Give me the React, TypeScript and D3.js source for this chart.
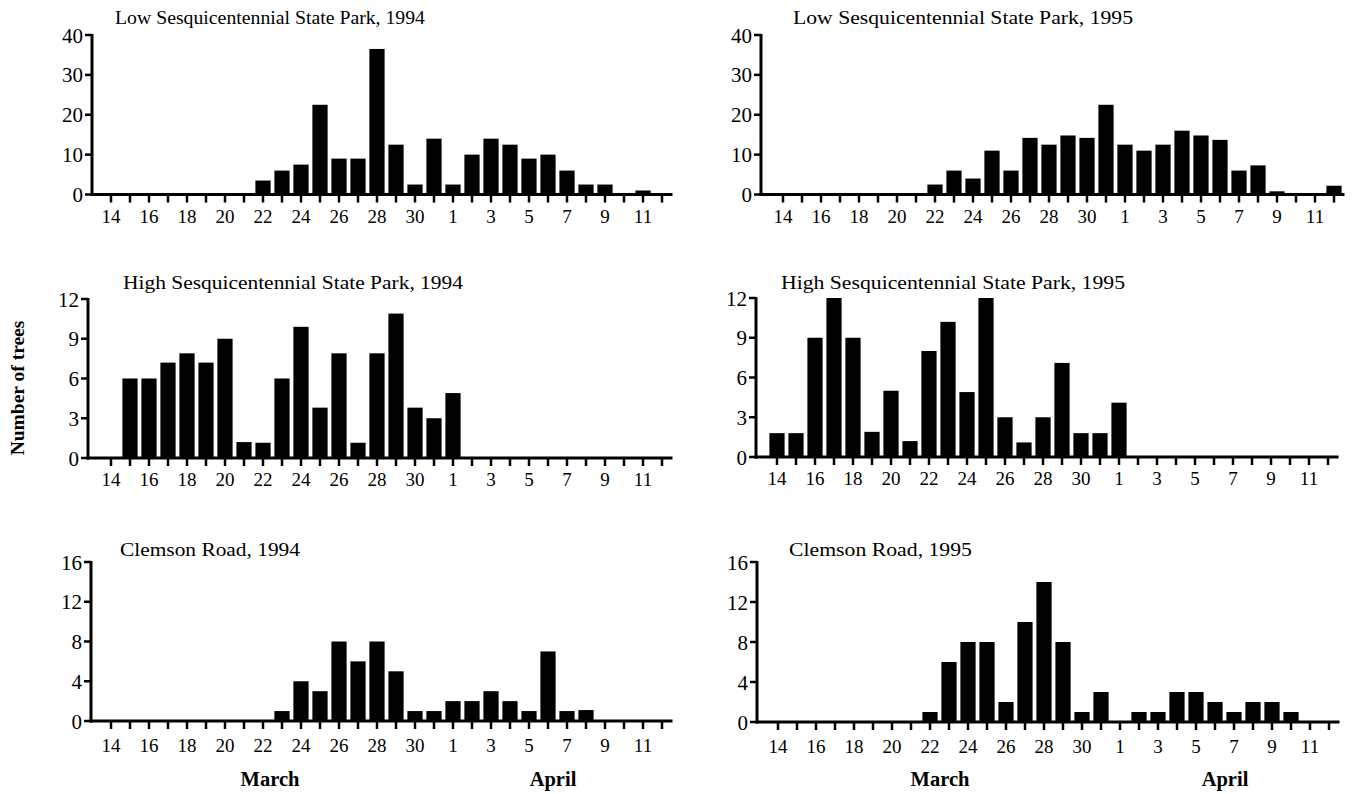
import React from "react";
import * as d3 from "d3";

const days = [
  "M14","M15","M16","M17","M18","M19","M20","M21","M22","M23","M24","M25","M26","M27","M28","M29","M30","M31",
  "A1","A2","A3","A4","A5","A6","A7","A8","A9","A10","A11","A12",
];
const dayLabels = [
  "14","15","16","17","18","19","20","21","22","23","24","25","26","27","28","29","30","31",
  "1","2","3","4","5","6","7","8","9","10","11","12",
];
const labeledDays = ["M14","M16","M18","M20","M22","M24","M26","M28","M30","A1","A3","A5","A7","A9","A11"];

const low1994 = [0,0,0,0,0,0,0,0,3.5,6,7.5,22.5,9,9,36.5,12.5,2.5,14,2.5,10,14,12.5,9,10,6,2.5,2.5,0,1,0];
const low1995 = [0,0,0,0,0,0,0,0,2.5,6,4,11,6,14.2,12.5,14.8,14.2,22.5,12.5,11,12.5,16,14.8,13.7,6,7.3,0.8,0,0,2.2];
const high1994 = [0,6,6,7.2,7.9,7.2,9,1.2,1.15,6,9.9,3.8,7.9,1.15,7.9,10.9,3.8,3.0,4.9,0,0,0,0,0,0,0,0,0,0,0];
const high1995 = [1.8,1.8,9,12,9,1.9,5,1.2,8,10.2,4.9,12,3,1.1,3,7.1,1.8,1.8,4.1,0,0,0,0,0,0,0,0,0,0,0];
const clemson1994 = [0,0,0,0,0,0,0,0,0,1,4,3,8,6,8,5,1,1,2,2,3,2,1,7,1,1.1,0,0,0,0];
const clemson1995 = [0,0,0,0,0,0,0,0,1,6,8,8,2,10,14,8,1,3,0,1,1,3,3,2,1,2,2,1,0,0];

const ticksLow = [0,10,20,30,40];
const ticksHigh = [0,3,6,9,12];
const ticksClemson = [0,4,8,12,16];

const titles = [
  "Low Sesquicentennial State Park, 1994",
  "Low Sesquicentennial State Park, 1995",
  "High Sesquicentennial State Park, 1994",
  "High Sesquicentennial State Park, 1995",
  "Clemson Road, 1994",
  "Clemson Road, 1995",
];

const FONT = "'Liberation Serif', 'Times New Roman', serif";

type PanelProps = {
  title: string;
  values: number[];
  ticks: number[];
  axisX: number;
  x0: number;
  top: number;
  bottom: number;
  titleX: number;
  titleY: number;
  titleW: number;
  labelDy: number;
};

function Panel(p: PanelProps) {
  const step = 19;
  const bandStart = p.x0 - step / 2;
  const x = d3.scaleBand<string>().domain(days).range([bandStart, bandStart + step * days.length]).paddingInner(0.2).paddingOuter(0.1);
  const y = d3.scaleLinear().domain([0, d3.max(p.ticks) as number]).range([p.bottom, p.top]);
  const bw = x.bandwidth();
  const axisEnd = bandStart + step * days.length + 1;
  return (
    <g>
      <text x={p.titleX} y={p.titleY} fontSize={18.5} fontFamily={FONT} textLength={p.titleW} lengthAdjust="spacingAndGlyphs">{p.title}</text>
      {days.map((d, i) =>
        p.values[i] > 0 ? (
          <rect key={d} x={(x(d) as number)} y={y(p.values[i])} width={bw} height={y(0) - y(p.values[i])} fill="#000" />
        ) : null
      )}
      <line x1={p.axisX} x2={p.axisX} y1={y(0) + 1.5} y2={p.top - 1} stroke="#000" strokeWidth={3} />
      <line x1={p.axisX - 1.5} x2={axisEnd} y1={y(0)} y2={y(0)} stroke="#000" strokeWidth={3} />
      {p.ticks.map((t) => (
        <g key={t}>
          <line x1={p.axisX - 7} x2={p.axisX} y1={y(t)} y2={y(t)} stroke="#000" strokeWidth={2.5} />
          <text x={p.axisX - 9} y={y(t)} dy="0.36em" textAnchor="end" fontSize={21} fontFamily={FONT}>{t}</text>
        </g>
      ))}
      {days.map((d, i) => {
        const cx = (x(d) as number) + bw / 2;
        return (
          <g key={d}>
            <line x1={cx} x2={cx} y1={y(0)} y2={y(0) + 8} stroke="#000" strokeWidth={2.5} />
            {labeledDays.includes(d) ? (
              <text x={cx} y={y(0) + p.labelDy} textAnchor="middle" fontSize={19} fontFamily={FONT}>{dayLabels[i]}</text>
            ) : null}
          </g>
        );
      })}
    </g>
  );
}

export default function App() {
  return (
    <svg width={1353} height={794} style={{ position: "absolute", left: 0, top: 0, background: "#fff" }}>
      <rect width={1353} height={794} fill="#fff" />
      <Panel title={titles[0]} values={low1994} ticks={ticksLow} axisX={92} x0={111} top={35} bottom={194.5} titleX={115} titleY={24} titleW={310} labelDy={28} />
      <Panel title={titles[1]} values={low1995} ticks={ticksLow} axisX={761} x0={783} top={35} bottom={194.5} titleX={793} titleY={24} titleW={340} labelDy={28} />
      <Panel title={titles[2]} values={high1994} ticks={ticksHigh} axisX={88} x0={111} top={299} bottom={458} titleX={123} titleY={289} titleW={340} labelDy={28} />
      <Panel title={titles[3]} values={high1995} ticks={ticksHigh} axisX={756} x0={777} top={298} bottom={457} titleX={781} titleY={289} titleW={344} labelDy={28} />
      <Panel title={titles[4]} values={clemson1994} ticks={ticksClemson} axisX={91} x0={111} top={562} bottom={721} titleX={120} titleY={556} titleW={180} labelDy={31} />
      <Panel title={titles[5]} values={clemson1995} ticks={ticksClemson} axisX={757} x0={778} top={562} bottom={722} titleX={789} titleY={556} titleW={183} labelDy={31} />
      <text transform="translate(24,388) rotate(-90)" textAnchor="middle" fontSize={19.5} fontWeight="bold" fontFamily={FONT}>Number of trees</text>
      <text x={270} y={786} textAnchor="middle" fontSize={20.5} fontWeight="bold" fontFamily={FONT}>March</text>
      <text x={553} y={786} textAnchor="middle" fontSize={20.5} fontWeight="bold" fontFamily={FONT}>April</text>
      <text x={940} y={786} textAnchor="middle" fontSize={20.5} fontWeight="bold" fontFamily={FONT}>March</text>
      <text x={1225} y={786} textAnchor="middle" fontSize={20.5} fontWeight="bold" fontFamily={FONT}>April</text>
    </svg>
  );
}
